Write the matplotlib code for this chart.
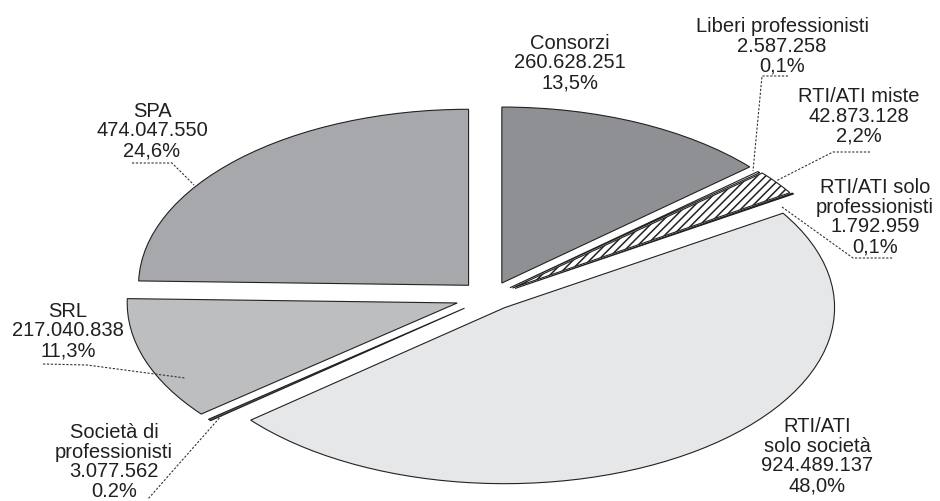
import matplotlib
matplotlib.use("Agg")
import matplotlib.pyplot as plt

plt.rcParams["font.family"] = ["Liberation Sans", "DejaVu Sans"]
plt.rcParams["hatch.linewidth"] = 1.1

# data, clockwise from 12 o'clock
categories = ["Consorzi", "Liberi professionisti", "RTI/ATI miste",
              "RTI/ATI solo\nprofessionisti", "RTI/ATI\nsolo società",
              "Società di\nprofessionisti", "SRL", "SPA"]
values = [260628251, 2587258, 42873128, 1792959, 924489137, 3077562, 217040838, 474047550]
value_labels = ["260.628.251", "2.587.258", "42.873.128", "1.792.959",
                "924.489.137", "3.077.562", "217.040.838", "474.047.550"]
pct_labels = ["13,5%", "0,1%", "2,2%", "0,1%", "48,0%", "0.2%", "11,3%", "24,6%"]

# styling
colors = ["#8f9093", "#ffffff", "#ffffff", "#111111", "#e6e7e8", "#555555", "#bdbec0", "#a7a8ab"]
hatches = ["", "", "////", "", "", "", "", ""]
explode = [0.087, 0.08, 0.085, 0.09, 0.075, 0.1, 0.105, 0.093]

W, H = 940, 501
# pixel centre of the pie and radius in pixels (x / y)
cx, cy = 490, 297
rx, ry = 330, 176

# label centres in pixels (x, y from top)
label_pos = [(570, 63), (782, 46), (859, 116), (875, 217), (817, 456), (114, 462), (68, 331), (152, 131)]
# leader lines in pixels
leaders = [
    None,
    [(788, 76), (762, 76), (753, 171)],
    [(870, 152), (833, 152), (776, 181)],
    [(782, 207), (853, 258), (893, 258)],
    None,
    [(222, 415), (148, 499)],
    [(43, 364), (87, 365), (185, 378)],
    [(132, 163), (172, 163), (194, 185)],
]

fig = plt.figure(figsize=(W / 100, H / 100), dpi=100)
ax = fig.add_axes([0, 0, 1, 1])

wedges, _ = ax.pie(values, colors=colors, startangle=90, counterclock=False,
                   explode=explode, radius=1, hatch=hatches,
                   wedgeprops=dict(edgecolor="#222222", linewidth=0.8))

ax.set_aspect("auto")
ax.set_xlim(-cx / rx, (W - cx) / rx)
ax.set_ylim(-(H - cy) / ry, cy / ry)
ax.axis("off")


def px(x, y):
    return x / W, 1 - y / H


for i in range(len(categories)):
    txt = categories[i] + "\n" + value_labels[i] + "\n" + pct_labels[i]
    x, y = px(*label_pos[i])
    fig.text(x, y, txt, ha="center", va="center", fontsize=14.5,
             linespacing=1.05, color="#231f20")
    if leaders[i] is not None:
        xs = [px(p[0], p[1])[0] for p in leaders[i]]
        ys = [px(p[0], p[1])[1] for p in leaders[i]]
        fig.add_artist(plt.Line2D(xs, ys, color="#333333", linewidth=0.8,
                                  linestyle=(0, (2, 1.5))))

fig.savefig("out.png", dpi=100)
